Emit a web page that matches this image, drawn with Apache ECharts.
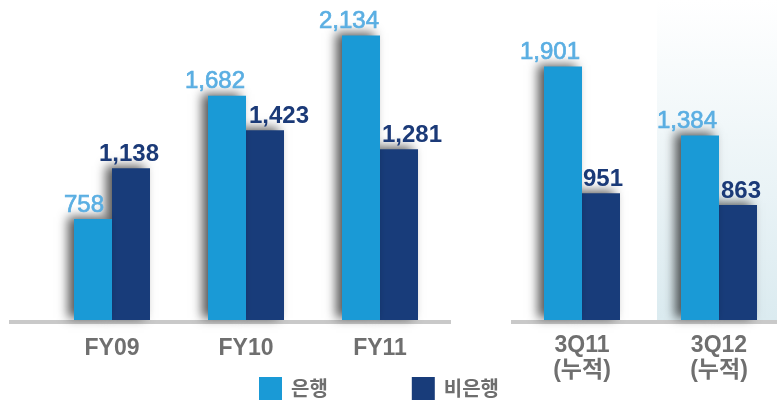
<!DOCTYPE html>
<html>
<head>
<meta charset="utf-8">
<script src="https://cdn.jsdelivr.net/npm/echarts@6/dist/echarts.min.js"></script>
<style>
html,body{margin:0;padding:0;background:#fff;}
#chart{width:777px;height:400px;}
</style>
</head>
<body>
<div id="chart"></div>
<script>
// ---- data ----
var categoriesLeft = ['FY09', 'FY10', 'FY11'];
var categoriesRight = ['3Q11\n(누적)', '3Q12\n(누적)'];
var seriesNames = ['은행', '비은행'];
var bankLeft = [758, 1682, 2134];
var nonBankLeft = [1138, 1423, 1281];
var bankRight = [1901, 1384];
var nonBankRight = [951, 863];

// ---- style helpers (label nudges, not data) ----
var bankOffsetLeft = [-9, -12, -12];
var nonBankOffsetLeft = [-2, 14, 13];
var bankOffsetRight = [-13, -13];
var nonBankOffsetRight = [2, 3];

var LIGHT = '#1a9ad6';
var DARK = '#183c7a';
var LIGHT_LABEL = '#5aaee2';
var DARK_LABEL = '#1b3a78';
var FONT = "'Liberation Sans', Arial, 'Noto Sans CJK KR', sans-serif";

function withOffsets(values, offs) {
  return values.map(function (v, i) {
    return { value: v, label: { offset: [offs[i], 0] } };
  });
}

function barSeries(name, idx, values, offs, isBank) {
  return {
    name: name,
    type: 'bar',
    xAxisIndex: idx,
    yAxisIndex: idx,
    barWidth: 38,
    barGap: '0%',
    z: isBank ? 3 : 2,
    itemStyle: {
      color: isBank ? LIGHT : DARK,
      shadowColor: 'rgba(0,0,0,0.65)',
      shadowBlur: 10,
      shadowOffsetX: -6,
      shadowOffsetY: -2
    },
    label: {
      show: true,
      position: 'top',
      distance: 2,
      fontFamily: FONT,
      fontSize: 24,
      fontWeight: isBank ? 'normal' : 'bold',
      color: isBank ? LIGHT_LABEL : DARK_LABEL,
      textBorderColor: isBank ? LIGHT_LABEL : 'transparent',
      textBorderWidth: isBank ? 0.7 : 0,
      formatter: function (p) { return p.value.toLocaleString('en-US'); }
    },
    data: withOffsets(values, offs)
  };
}

var axisLabelStyle = {
  fontFamily: FONT,
  fontSize: 23,
  fontWeight: 'bold',
  color: '#6f6f6f',
  lineHeight: 25
};

var chart = echarts.init(document.getElementById('chart'), null, { renderer: 'canvas' });
chart.setOption({
  backgroundColor: '#ffffff',
  animation: false,
  graphic: [
    {
      type: 'rect', z: -1,
      shape: { x: 657, y: 0, width: 120, height: 320 },
      style: {
        fill: new echarts.graphic.LinearGradient(0, 0, 0, 1, [
          { offset: 0, color: 'rgba(255,255,255,1)' },
          { offset: 1, color: '#dbebf0' }
        ])
      }
    },
    {
      type: 'rect', z: 1,
      shape: { x: 9, y: 320, width: 442, height: 4 },
      style: { fill: '#c9c9c9' }
    },
    {
      type: 'rect', z: 1,
      shape: { x: 511, y: 320, width: 266, height: 4 },
      style: { fill: '#c9c9c9' }
    }
  ],
  legend: {
    data: seriesNames,
    left: 259,
    top: 377,
    padding: 0,
    icon: 'rect',
    itemWidth: 23,
    itemHeight: 23,
    itemGap: 84,
    textStyle: {
      fontFamily: "'Noto Sans CJK KR', sans-serif",
      fontSize: 20,
      fontWeight: 'bold',
      color: '#6e6e6e',
      padding: [0, 0, 0, 4]
    }
  },
  grid: [
    { left: 112, top: 0, width: 268, height: 320 },
    { left: 582, top: 0, width: 137, height: 320 }
  ],
  xAxis: [
    {
      type: 'category', gridIndex: 0, data: categoriesLeft, boundaryGap: false,
      axisLine: { show: false }, axisTick: { show: false },
      axisLabel: Object.assign({ margin: 16 }, axisLabelStyle)
    },
    {
      type: 'category', gridIndex: 1, data: categoriesRight, boundaryGap: false,
      axisLine: { show: false }, axisTick: { show: false },
      axisLabel: Object.assign({ margin: 13 }, axisLabelStyle)
    }
  ],
  yAxis: [
    { type: 'value', gridIndex: 0, min: 0, max: 2400, show: false, splitLine: { show: false } },
    { type: 'value', gridIndex: 1, min: 0, max: 2400, show: false, splitLine: { show: false } }
  ],
  series: [
    barSeries(seriesNames[0], 0, bankLeft, bankOffsetLeft, true),
    barSeries(seriesNames[1], 0, nonBankLeft, nonBankOffsetLeft, false),
    barSeries(seriesNames[0], 1, bankRight, bankOffsetRight, true),
    barSeries(seriesNames[1], 1, nonBankRight, nonBankOffsetRight, false)
  ]
});
</script>
</body>
</html>
